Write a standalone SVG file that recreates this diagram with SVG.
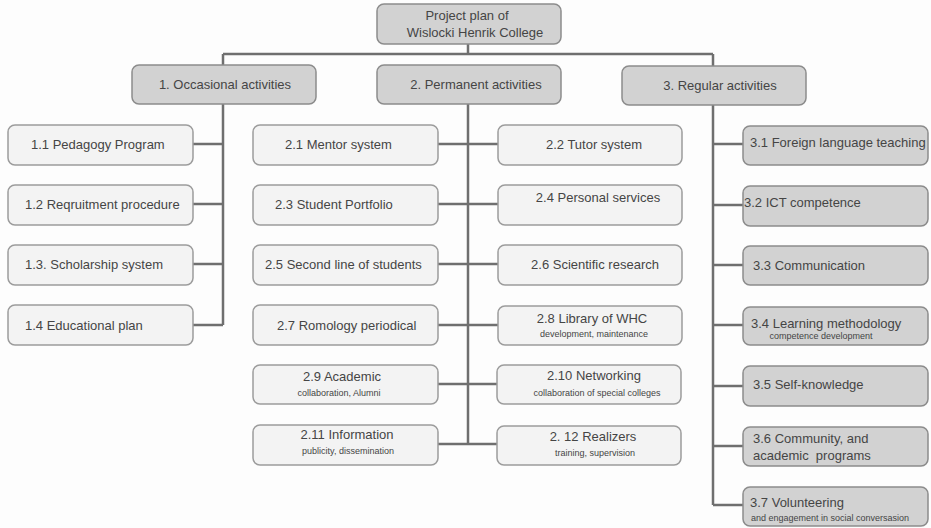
<svg xmlns="http://www.w3.org/2000/svg" width="931" height="528" viewBox="0 0 931 528">
<style>
  .dark rect { fill: #d2d2d2; stroke: #8c8c8c; stroke-width: 1.5; }
  .light rect { fill: #f3f3f3; stroke: #9c9c9c; stroke-width: 1.5; }
  text { font-family: "Liberation Sans", Arial, sans-serif; fill: #454545; }
  .t { font-size: 13px; }
  .s { font-size: 9px; }
  .c { text-anchor: middle; }
  #connectors path { fill: none; stroke: #6f6f6f; stroke-width: 2.5; }
</style>
<rect width="931" height="528" fill="#fdfdfd"/>
<g id="connectors">
  <path d="M468 44 V54 M223 54 H713 M223 54 V65 M713 54 V66"/>
  <path d="M223 104 V325 M193 144 H223 M193 204 H223 M193 264 H223 M193 325 H223"/>
  <path d="M468 104 V444 M438 144 H498 M438 204 H498 M438 264 H498 M438 325 H498 M438 384 H498 M438 444 H498"/>
  <path d="M713 105 V505 M713 144 H743 M713 205 H743 M713 265 H743 M713 325 H743 M713 386 H743 M713 446 H743 M713 505 H743"/>
</g>
<g id="root" class="dark"><rect x="377" y="4" width="184" height="40" rx="7"/>
  <text class="t c" x="467" y="20">Project plan of</text>
  <text class="t c" x="475" y="37">Wislocki Henrik College</text></g>
<g id="n1" class="dark"><rect x="132" y="65" width="184" height="39" rx="7"/>
  <text class="t c" x="225" y="89">1. Occasional activities</text></g>
<g id="n2" class="dark"><rect x="377" y="65" width="184" height="39" rx="7"/>
  <text class="t c" x="476" y="89">2. Permanent activities</text></g>
<g id="n3" class="dark"><rect x="622" y="66" width="184" height="39" rx="7"/>
  <text class="t c" x="720" y="90">3. Regular activities</text></g>

<g id="n1_1" class="light"><rect x="8" y="125" width="185" height="40" rx="7"/>
  <text class="t" x="31" y="149">1.1 Pedagogy Program</text></g>
<g id="n1_2" class="light"><rect x="8" y="185" width="185" height="40" rx="7"/>
  <text class="t" x="25" y="209">1.2 Reqruitment procedure</text></g>
<g id="n1_3" class="light"><rect x="8" y="245" width="185" height="40" rx="7"/>
  <text class="t" x="25" y="269">1.3. Scholarship system</text></g>
<g id="n1_4" class="light"><rect x="8" y="305" width="185" height="40" rx="7"/>
  <text class="t" x="25" y="330">1.4 Educational plan</text></g>

<g id="n2_1" class="light"><rect x="253" y="125" width="185" height="40" rx="7"/>
  <text class="t" x="285" y="149">2.1 Mentor system</text></g>
<g id="n2_3" class="light"><rect x="253" y="185" width="185" height="40" rx="7"/>
  <text class="t" x="275" y="209">2.3 Student Portfolio</text></g>
<g id="n2_5" class="light"><rect x="253" y="245" width="185" height="40" rx="7"/>
  <text class="t" x="265" y="269">2.5 Second line of students</text></g>
<g id="n2_7" class="light"><rect x="253" y="305" width="185" height="40" rx="7"/>
  <text class="t" x="277" y="330">2.7 Romology periodical</text></g>
<g id="n2_9" class="light"><rect x="253" y="365" width="185" height="39" rx="7"/>
  <text class="t c" x="342" y="381">2.9 Academic</text>
  <text class="s c" x="339" y="396">collaboration, Alumni</text></g>
<g id="n2_11" class="light"><rect x="253" y="425" width="185" height="40" rx="7"/>
  <text class="t c" x="347" y="439">2.11 Information</text>
  <text class="s c" x="348" y="454">publicity, dissemination</text></g>

<g id="n2_2" class="light"><rect x="498" y="125" width="184" height="40" rx="7"/>
  <text class="t c" x="594" y="149">2.2 Tutor system</text></g>
<g id="n2_4" class="light"><rect x="498" y="185" width="184" height="40" rx="7"/>
  <text class="t c" x="598" y="202">2.4 Personal services</text></g>
<g id="n2_6" class="light"><rect x="498" y="245" width="184" height="40" rx="7"/>
  <text class="t c" x="595" y="269">2.6 Scientific research</text></g>
<g id="n2_8" class="light"><rect x="498" y="306" width="184" height="39" rx="7"/>
  <text class="t c" x="592" y="323">2.8 Library of WHC</text>
  <text class="s c" x="594" y="337">development, maintenance</text></g>
<g id="n2_10" class="light"><rect x="497" y="365" width="184" height="39" rx="7"/>
  <text class="t c" x="594" y="380">2.10 Networking</text>
  <text class="s c" x="597" y="396">collaboration of special colleges</text></g>
<g id="n2_12" class="light"><rect x="497" y="426" width="184" height="39" rx="7"/>
  <text class="t c" x="593" y="441">2. 12 Realizers</text>
  <text class="s c" x="595" y="456">training, supervision</text></g>

<g id="n3_1" class="dark"><rect x="743" y="126" width="185" height="39" rx="7"/>
  <text class="t" x="750" y="147">3.1 Foreign language teaching</text></g>
<g id="n3_2" class="dark"><rect x="743" y="186" width="185" height="40" rx="7"/>
  <text class="t" x="744" y="207">3.2 ICT competence</text></g>
<g id="n3_3" class="dark"><rect x="743" y="246" width="185" height="39" rx="7"/>
  <text class="t" x="753" y="270">3.3 Communication</text></g>
<g id="n3_4" class="dark"><rect x="743" y="307" width="185" height="38" rx="7"/>
  <text class="t" x="751" y="328">3.4 Learning methodology</text>
  <text class="s c" x="821" y="339">competence development</text></g>
<g id="n3_5" class="dark"><rect x="743" y="366" width="185" height="40" rx="7"/>
  <text class="t" x="753" y="389">3.5 Self-knowledge</text></g>
<g id="n3_6" class="dark"><rect x="743" y="427" width="185" height="39" rx="7"/>
  <text class="t" x="753" y="443">3.6 Community, and</text>
  <text class="t" x="753" y="460" xml:space="preserve">academic  programs</text></g>
<g id="n3_7" class="dark"><rect x="743" y="487" width="185" height="39" rx="7"/>
  <text class="t" x="750" y="507">3.7 Volunteering</text>
  <text class="s" x="751" y="521">and engagement in social conversasion</text></g>
</svg>
